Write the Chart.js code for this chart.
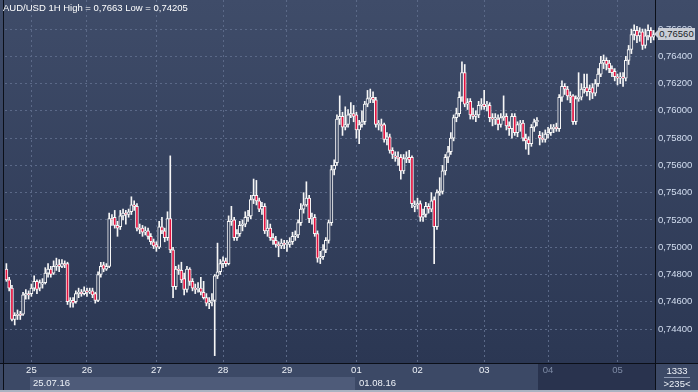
<!DOCTYPE html>
<html>
<head>
<meta charset="utf-8">
<script src="https://cdn.jsdelivr.net/npm/chart.js@4.4.1/dist/chart.umd.min.js"></script>
<style>
  html, body { margin: 0; padding: 0; background: #3c4966; overflow: hidden; }
  #wrap { position: relative; width: 698px; height: 392px; font-family: "Liberation Sans", Arial, sans-serif; }
  #wrap canvas { position: absolute; left: 0; top: 0; }
  .lbl { position: absolute; color: #eef2f8; font-size: 9.5px; line-height: 12px; white-space: nowrap; }
  #tag { position: absolute; left: 658px; top: 28px; width: 37px; height: 12px; background: #c9cdd6;
         color: #1b1f28; font-size: 9.5px; line-height: 12px; text-align: center; }
  #tag:before { content: ""; position: absolute; left: -4px; top: 2px; border-top: 4px solid transparent;
         border-bottom: 4px solid transparent; border-right: 4px solid #c9cdd6; }
</style>
</head>
<body>
<div id="wrap">
  <canvas id="myChart" width="698" height="392"></canvas>
  <div class="lbl" style="left:3px;top:2px;color:#ffffff">AUD/USD 1H High = 0,7663 Low = 0,74205</div>
  <div class="lbl" style="left:33px;top:377px">25.07.16</div>
  <div class="lbl" style="left:359px;top:377px">01.08.16</div>
  <div class="lbl" style="left:656px;top:365px;width:42px;text-align:center">1333</div>
  <div class="lbl" style="left:656px;top:378px;width:42px;text-align:center">&gt;235&lt;</div>
  <div id="tag">0,76560</div>
</div>
<script>
// hourly candles, prices in 1/10000 (7484 = 0,7484)
const opens = [
  7484,7476,7470,7447,7450,7451,7451,7465,7466,7466,
  7470,7475,7470,7473,7474,7481,7484,7481,7486,7487,
  7486,7488,7488,7460,7461,7460,7466,7467,7466,7468,
  7467,7468,7466,7461,7480,7487,7484,7486,7521,7522,
  7516,7515,7523,7525,7524,7526,7531,7530,7514,7514,
  7511,7512,7508,7504,7502,7500,7515,7512,7507,7521,
  7498,7471,7484,7483,7477,7469,7484,7475,7470,7469,
  7470,7467,7463,7459,7460,7461,7479,7482,7488,7490,
  7488,7519,7520,7507,7510,7516,7517,7522,7523,7535,
  7538,7534,7528,7530,7512,7514,7507,7505,7502,7501,
  7503,7502,7502,7504,7508,7509,7518,7528,7531,7536,
  7521,7522,7510,7492,7493,7498,7505,7518,7557,7562,
  7594,7596,7588,7590,7597,7598,7597,7586,7590,7592,
  7605,7609,7610,7608,7590,7590,7590,7579,7581,7571,
  7567,7566,7566,7556,7565,7566,7566,7530,7531,7532,
  7522,7524,7530,7528,7535,7515,7540,7541,7556,7566,
  7570,7580,7595,7598,7610,7628,7605,7607,7597,7596,
  7597,7604,7605,7604,7604,7595,7594,7594,7590,7595,
  7596,7589,7587,7596,7584,7590,7591,7580,7579,7576,
  7588,7592,7582,7580,7579,7583,7584,7587,7588,7587,
  7610,7618,7616,7611,7611,7592,7609,7610,7616,7617,
  7614,7617,7613,7620,7627,7635,7637,7635,7631,7629,
  7625,7624,7625,7624,7637,7645,7656,7659,7655,7658,
  7648,7655,7659,7654
]
const highs = [
  7488,7478,7472,7452,7454,7453,7467,7469,7468,7473,
  7479,7476,7476,7477,7485,7488,7486,7490,7492,7491,
  7491,7490,7489,7463,7463,7468,7470,7469,7471,7470,
  7470,7470,7467,7482,7489,7489,7488,7525,7524,7527,
  7519,7527,7528,7527,7528,7537,7534,7532,7517,7516,
  7515,7514,7510,7506,7504,7519,7522,7514,7526,7567,
  7500,7486,7487,7489,7481,7486,7485,7477,7473,7474,
  7478,7475,7466,7463,7466,7480,7503,7491,7493,7492,
  7523,7530,7522,7513,7519,7520,7526,7527,7538,7550,
  7549,7536,7533,7532,7520,7517,7510,7508,7504,7506,
  7505,7505,7507,7511,7512,7520,7532,7540,7548,7538,
  7525,7524,7512,7497,7502,7507,7520,7560,7564,7597,
  7611,7599,7603,7601,7606,7604,7599,7593,7600,7607,
  7615,7616,7614,7610,7593,7594,7591,7584,7583,7573,
  7570,7570,7568,7568,7570,7571,7567,7534,7536,7534,
  7528,7533,7532,7540,7537,7542,7551,7560,7568,7574,
  7584,7597,7602,7614,7636,7634,7609,7609,7602,7600,
  7607,7609,7615,7607,7606,7598,7598,7597,7598,7611,
  7598,7592,7598,7598,7592,7593,7593,7583,7581,7590,
  7594,7595,7585,7584,7586,7588,7590,7590,7591,7612,
  7622,7620,7618,7614,7612,7611,7628,7620,7627,7627,
  7619,7620,7623,7631,7640,7641,7639,7637,7633,7631,
  7627,7628,7628,7640,7648,7660,7663,7662,7661,7660,
  7660,7663,7661,7659
]
const lows = [
  7475,7468,7446,7443,7447,7447,7450,7462,7462,7464,
  7468,7466,7468,7470,7473,7478,7478,7480,7483,7482,
  7485,7485,7458,7456,7456,7459,7463,7464,7465,7464,
  7466,7463,7459,7460,7478,7482,7483,7485,7516,7514,
  7508,7513,7520,7517,7522,7524,7527,7512,7510,7508,
  7509,7506,7502,7499,7497,7499,7510,7504,7505,7496,
  7463,7469,7480,7474,7465,7467,7472,7468,7466,7467,
  7465,7462,7457,7455,7457,7420.5,7477,7480,7485,7486,
  7487,7516,7505,7505,7508,7512,7515,7519,7521,7532,
  7531,7526,7524,7510,7508,7505,7502,7500,7493,7499,
  7499,7497,7500,7502,7505,7507,7516,7525,7530,7518,
  7517,7508,7489,7488,7491,7496,7503,7516,7553,7560,
  7590,7582,7586,7588,7595,7592,7580,7576,7588,7590,
  7603,7606,7606,7588,7586,7585,7577,7575,7569,7565,
  7563,7560,7550,7554,7562,7562,7529,7526,7528,7519,
  7519,7522,7525,7526,7488,7513,7538,7539,7553,7562,
  7568,7578,7592,7596,7607,7603,7601,7594,7594,7592,
  7595,7601,7601,7600,7592,7589,7590,7586,7588,7593,
  7586,7582,7580,7582,7581,7585,7578,7572,7568,7574,
  7585,7589,7575,7577,7577,7580,7582,7584,7585,7585,
  7607,7612,7608,7606,7590,7590,7607,7608,7613,7611,
  7608,7609,7611,7618,7625,7631,7630,7628,7625,7622,
  7619,7620,7618,7622,7634,7642,7652,7650,7651,7645,
  7646,7652,7650,7652
]
const closes = [
  7476,7470,7447,7450,7451,7450,7465,7466,7465,7470,
  7475,7469,7474,7474,7481,7484,7480,7486,7487,7486,
  7488,7487,7460,7461,7459,7466,7467,7466,7468,7467,
  7468,7465,7461,7480,7486,7484,7486,7521,7520,7516,
  7514,7523,7525,7524,7526,7531,7530,7514,7513,7511,
  7512,7508,7504,7501,7500,7515,7512,7507,7521,7498,
  7471,7484,7483,7476,7469,7484,7475,7470,7469,7470,
  7467,7463,7459,7460,7461,7479,7482,7488,7490,7488,
  7519,7520,7507,7510,7516,7517,7522,7523,7535,7538,
  7534,7528,7530,7512,7514,7507,7505,7502,7501,7503,
  7502,7503,7504,7508,7509,7518,7528,7531,7536,7521,
  7522,7510,7492,7493,7498,7505,7518,7557,7560,7594,
  7596,7588,7590,7597,7598,7596,7586,7590,7592,7605,
  7609,7610,7608,7590,7591,7589,7579,7581,7571,7568,
  7566,7565,7556,7565,7566,7564,7532,7531,7532,7522,
  7524,7530,7528,7534,7515,7540,7541,7556,7566,7570,
  7580,7595,7598,7610,7628,7605,7606,7597,7596,7597,
  7604,7605,7603,7604,7595,7594,7595,7590,7595,7596,
  7589,7587,7596,7584,7590,7591,7580,7578,7576,7588,
  7592,7593,7580,7579,7583,7584,7587,7588,7587,7610,
  7618,7616,7611,7610,7592,7609,7610,7616,7617,7614,
  7616,7613,7620,7627,7635,7637,7634,7631,7628,7625,
  7624,7625,7624,7637,7645,7656,7659,7655,7658,7648,
  7655,7659,7654,7656
]

// day ticks on the time axis (candle index where each day starts)
const dayLabels = ['25', '26', '27', '28', '29', '01', '02', '03', '04', '05']
const dayIndex = [9, 29, 54, 78, 101, 126, 148, 172, 195, 220]

// price axis
const priceMin = 0.74151
const priceMax = 0.76813
const priceStep = 0.002
const firstTick = 0.744
const lastTick = 0.766

const RED = '#e3123f'
const WHITE = '#f6f6f6'
const GRID = '#5b6988'

let bgCache = null
const bgGrad = (chart) => {
    if (bgCache) return bgCache
    const g = chart.ctx.createLinearGradient(0, 0, 0, 363)
    g.addColorStop(0, '#3f4c69')
    g.addColorStop(1, '#2b3753')
    bgCache = g
    return g
}

const fondo = {
    id: 'fondo',
    beforeDraw(chart) {
        const ctx = chart.ctx
        ctx.save()
        ctx.fillStyle = bgGrad(chart)
        ctx.fillRect(0, 0, 698, 363)
        // bottom band
        ctx.fillStyle = '#3c4966'
        ctx.fillRect(0, 363, 698, 29)
        ctx.fillStyle = '#4e5b79'
        ctx.fillRect(30, 377, 325, 13)
        ctx.fillStyle = '#29334e'
        ctx.fillRect(538, 364, 117, 26)
        ctx.fillStyle = '#aab2c1'
        ctx.fillRect(0, 390, 698, 2)
        ctx.strokeStyle = '#0b0f18'
        ctx.lineWidth = 1
        ctx.beginPath()
        ctx.moveTo(0, 363.5); ctx.lineTo(698, 363.5)
        ctx.moveTo(655.5, 0); ctx.lineTo(655.5, 390)
        ctx.moveTo(3.5, 0); ctx.lineTo(3.5, 390)
        ctx.stroke()
        ctx.strokeStyle = '#8e9ab2'
        ctx.beginPath()
        ctx.moveTo(664, 377.5); ctx.lineTo(690, 377.5)
        ctx.stroke()
        ctx.restore()
    }
}

const etiquetas = opens.map((x, i) => i)

const ctx = document.getElementById('myChart').getContext('2d')

new Chart(ctx, {
    type: 'bar',
    data: {
        labels: etiquetas,
        datasets: [
            {
                label: 'cuerpo',
                data: opens.map((o, i) => [o / 10000, closes[i] / 10000]),
                order: 0,
                grouped: false,
                barThickness: 3,
                minBarLength: 1,
                borderWidth: 1,
                borderSkipped: false,
                borderColor: WHITE,
                backgroundColor: (c) => {
                    const i = c.dataIndex
                    if (closes[i] < opens[i]) return RED
                    return bgGrad(c.chart)
                }
            },
            {
                label: 'mecha',
                data: lows.map((l, i) => [l / 10000, highs[i] / 10000]),
                order: 1,
                grouped: false,
                barThickness: 1,
                borderWidth: 0,
                backgroundColor: WHITE
            }
        ]
    },
    options: {
        responsive: false,
        animation: false,
        events: [],
        layout: { padding: { left: 5, top: 0, right: 0, bottom: 0 } },
        plugins: { legend: { display: false }, tooltip: { enabled: false } },
        scales: {
            x: {
                type: 'category',
                offset: true,
                grid: {
                    offset: false,
                    drawTicks: false,
                    color: (c) => dayIndex.includes(c.index) ? GRID : 'rgba(0,0,0,0)'
                },
                border: { display: false, dash: [2, 3] },
                ticks: {
                    autoSkip: false,
                    maxRotation: 0,
                    minRotation: 0,
                    padding: 2,
                    font: { family: 'Liberation Sans', size: 9.5 },
                    color: (c) => c.index >= dayIndex[8] ? '#7f8ca6' : '#eef2f8',
                    callback: (v, i) => {
                        const k = dayIndex.indexOf(i)
                        return k >= 0 ? dayLabels[k] : ''
                    }
                },
                afterFit: (s) => { s.height = 29; s.paddingLeft = 0; s.paddingRight = 0 }
            },
            y: {
                position: 'right',
                min: priceMin,
                max: priceMax,
                grid: { color: GRID, drawTicks: false },
                border: { display: false, dash: [2, 3] },
                ticks: {
                    stepSize: priceStep,
                    includeBounds: false,
                    padding: 3,
                    font: { family: 'Liberation Sans', size: 9.5 },
                    color: '#d3def0',
                    callback: (v) => v.toFixed(5).replace('.', ',')
                },
                afterBuildTicks: (s) => {
                    s.ticks = s.ticks.filter(t => t.value > firstTick - 0.0005 && t.value < lastTick + 0.0005)
                },
                afterFit: (s) => { s.width = 43; s.paddingTop = 0; s.paddingBottom = 0 }
            }
        }
    },
    plugins: [fondo]
})
</script>
</body>
</html>
